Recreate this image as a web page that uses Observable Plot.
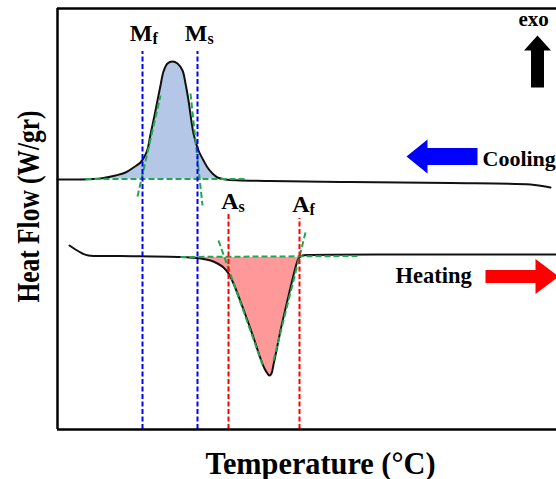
<!DOCTYPE html>
<html><head><meta charset="utf-8">
<script src="https://cdn.jsdelivr.net/npm/d3@7"></script>
<script src="https://cdn.jsdelivr.net/npm/@observablehq/plot@0.6"></script>
<style>html,body{margin:0;padding:0;background:#fff;overflow:hidden}#chart svg{display:block}</style>
</head><body><div id="chart"></div>
<script>
// Cooling scan (arbitrary temperature units, arbitrary heat-flow units)
const coolT = [0,23,43,58,68,76,83,87,90,93,97,100,103,106,110,115,120,125,128,131,136,141,146,150,155,160,168,213,293,393,473,488,493];
const coolH = [250,250,251,254,257,262,267,273,280,295,314,329,344,358,366,368,366,359,346,329,296,279,269,262,256,252,250,248.5,247.5,246.5,245,243,242];
// Heating scan
const heatT = [12,18,25,31,63,123,143,153,160,166,171,176,183,190,197,203,207,210,212,214,216,219,223,228,233,238,241,245,253,343,499];
const heatH = [184,180,176,174,173.5,172.5,171,169,166,162,156,146,128,109,89,71,61,56,54,56,65,79,99,121,142,162,171,174,174.5,175,175];
// Transformation temperatures
const martNames = ["M", "M"];
const martSubs = ["f", "s"];
const martT = [85, 140];
const austNames = ["A", "A"];
const austSubs = ["s", "f"];
const austT = [171, 242];
// Tangent construction lines [x1, y1, x2, y2]
const tangentX1 = [28, 80, 133, 123, 161, 216];
const tangentY1 = [250.5, 233, 336, 172.5, 189, 69];
const tangentX2 = [188, 103, 145, 300, 206, 248];
const tangentY2 = [250.5, 334, 224, 173.5, 62, 197];
const coolBaseline = 250.5;
const heatBaseline = 172;

const cool = coolT.map((T, i) => ({T, H: coolH[i]}));
const heat = heatT.map((T, i) => ({T, H: heatH[i]}));
const coolFill = cool.filter(d => d.T >= 23 && d.T <= 168);
const heatFill = heat.filter(d => d.T >= 143 && d.T <= 243);
const tangents = tangentX1.map((x1, i) => ({x1, y1: tangentY1[i], x2: tangentX2[i], y2: tangentY2[i]}));
const mart = martT.map((T, i) => ({T, name: martNames[i], sub: martSubs[i]}));
const aust = austT.map((T, i) => ({T, name: austNames[i], sub: austSubs[i], top: i === 0 ? 216 : 211, lab: i === 0 ? 221 : 218}));

function hArrow(start, base, tip, c, head, shaft) {
  return [[tip, c], [base, c + head], [base, c + shaft], [start, c + shaft], [start, c - shaft], [base, c - shaft], [base, c - head]]
    .map(([x, y]) => ({x, y}));
}
function vArrow(bottom, base, tip, c, head, shaft) {
  return [[c, tip], [c + head, base], [c + shaft, base], [c + shaft, bottom], [c - shaft, bottom], [c - shaft, base], [c - head, base]]
    .map(([x, y]) => ({x, y}));
}
const blueArrow = hArrow(420, 370, 349, 273, 17, 8.5);
const redArrow = hArrow(428, 478, 501, 153, 17.5, 6.5);
const exoArrow = vArrow(342, 379, 394, 480, 13.5, 6.5);

const serif = "'Liberation Serif', 'Times New Roman', serif";
const green = "#1fa84f";

const plot = Plot.plot({
  width: 556, height: 479,
  marginLeft: 57, marginRight: 0, marginTop: 8, marginBottom: 50,
  x: {domain: [0, 499], axis: null},
  y: {domain: [0, 421], axis: null},
  style: {background: "white", fontFamily: serif},
  marks: [
    Plot.areaY(coolFill, {x: "T", y1: coolBaseline, y2: "H", fill: "#b4c7e7", curve: "catmull-rom"}),
    Plot.areaY(heatFill, {x: "T", y1: heatBaseline, y2: "H", fill: "#ff9999", curve: "catmull-rom"}),
    Plot.line(cool, {x: "T", y: "H", stroke: "#111", strokeWidth: 2, curve: "catmull-rom"}),
    Plot.line(heat, {x: "T", y: "H", stroke: "#111", strokeWidth: 2, curve: "catmull-rom"}),
    Plot.link(tangents, {x1: "x1", y1: "y1", x2: "x2", y2: "y2", stroke: green, strokeWidth: 2, strokeDasharray: "6,3"}),
    Plot.ruleX(mart, {x: "T", y1: 0, y2: 378, stroke: "#0000ff", strokeWidth: 2, strokeDasharray: "5,2.5"}),
    Plot.ruleX(aust, {x: "T", y1: 0, y2: "top", stroke: "#ff0000", strokeWidth: 2, strokeDasharray: "5,2.5"}),
    Plot.ruleX([0], {stroke: "#000", strokeWidth: 2.5}),
    Plot.ruleY([0, 421], {stroke: "#000", strokeWidth: 2.5}),
    // labels
    Plot.text(mart, {x: "T", y: 389, text: "name", dx: 10, textAnchor: "end", lineAnchor: "bottom", fontSize: 24, fontWeight: "bold", fill: "#000"}),
    Plot.text(mart, {x: "T", y: 386, text: "sub", dx: 10, textAnchor: "start", lineAnchor: "bottom", fontSize: 16, fontWeight: "bold", fill: "#000"}),
    Plot.text(aust, {x: "T", y: "lab", text: "name", dx: 10, textAnchor: "end", lineAnchor: "bottom", fontSize: 24, fontWeight: "bold", fill: "#000"}),
    Plot.text(aust, {x: "T", y: d => d.lab - 3.5, text: "sub", dx: 10, textAnchor: "start", lineAnchor: "bottom", fontSize: 16, fontWeight: "bold", fill: "#000"}),
    // arrows
    Plot.line(blueArrow, {x: "x", y: "y", fill: "#0000ff", stroke: "none"}),
    Plot.line(redArrow, {x: "x", y: "y", fill: "#ff0000", stroke: "none"}),
    Plot.line(exoArrow, {x: "x", y: "y", fill: "#000", stroke: "none"}),
    Plot.text(["Cooling"], {x: 425, y: 264, text: d => d, textAnchor: "start", lineAnchor: "bottom", fontSize: 22, fontWeight: "bold", fill: "#000"}),
    Plot.text(["Heating"], {x: 338, y: 147, text: d => d, textAnchor: "start", lineAnchor: "bottom", fontSize: 22.5, fontWeight: "bold", fill: "#000"}),
    Plot.text(["exo"], {x: 461, y: 404, text: d => d, textAnchor: "start", lineAnchor: "bottom", fontSize: 21, fontWeight: "bold", fill: "#000"}),
    // axis titles
    Plot.text(["Temperature (°C)"], {x: 263, frameAnchor: "bottom", dy: 44, text: d => d, lineAnchor: "bottom", fontSize: 31, fontWeight: "bold", fill: "#000"}),
    Plot.text(["Heat Flow (W/gr)"], {y: 127, frameAnchor: "left", dx: -19, rotate: -90, text: d => d, textAnchor: "start", lineAnchor: "bottom", fontSize: 31, fontWeight: "bold", fill: "#000"})
  ]
});
document.getElementById("chart").append(plot);
const svg = d3.select(plot.tagName === "svg" ? plot : plot.querySelector("svg"));
svg.selectAll("text").filter(function() { return this.textContent === "Temperature (°C)"; })
  .attr("textLength", 230).attr("lengthAdjust", "spacingAndGlyphs");
svg.selectAll("text").filter(function() { return this.textContent === "Heat Flow (W/gr)"; })
  .attr("textLength", 192).attr("lengthAdjust", "spacingAndGlyphs");
</script>
</body></html>
